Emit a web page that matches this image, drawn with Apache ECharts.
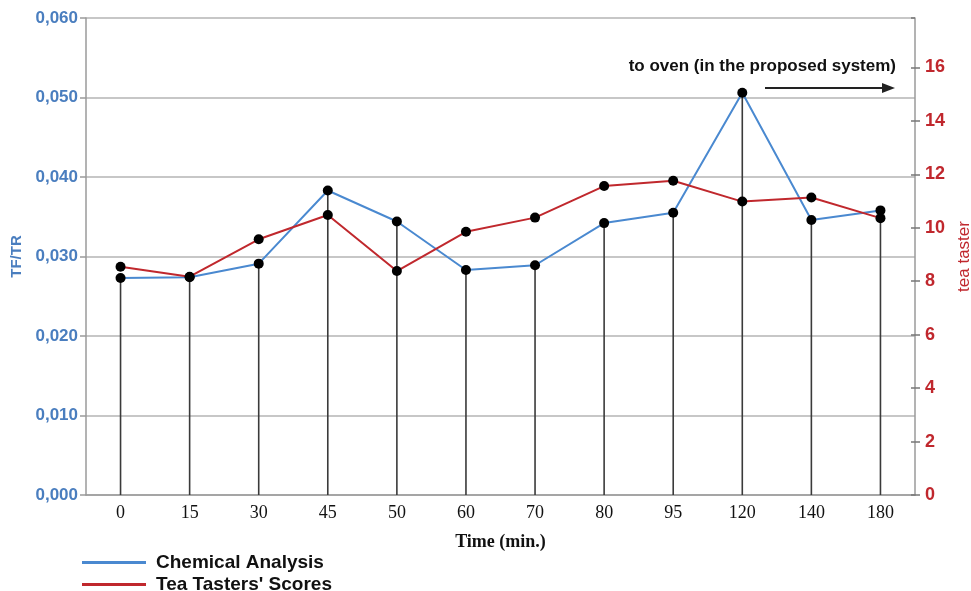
<!DOCTYPE html>
<html>
<head>
<meta charset="utf-8">
<script src="https://cdn.jsdelivr.net/npm/echarts@6/dist/echarts.min.js"></script>
<style>html,body{margin:0;padding:0;background:#fff}#c{width:971px;height:591px}</style>
</head>
<body>
<div id="c"></div>
<script>
const categories = ['0','15','30','45','50','60','70','80','95','120','140','180'];
const chemical = [0.0273,0.0274,0.0291,0.0383,0.0344,0.0283,0.0289,0.0342,0.0355,0.0506,0.0346,0.0358];
const tasters = [8.54,8.17,9.57,10.48,8.38,9.85,10.38,11.56,11.76,10.98,11.13,10.36];
const leftTicks = {min:0,max:0.06,interval:0.01};
const rightTicks = {min:0,max:17.85,interval:2};

const chart = echarts.init(document.getElementById('c'));
const blueTxt = '#4a7ebf', redTxt = '#c0272d', gridCol = '#b4b4b4', axisCol = '#9a9a9a';
const blueLine = '#4a89d0', redLine = '#c0282d';
const legendBase = {
  orient:'vertical', left:82, padding:0, itemWidth:64, itemHeight:3, icon:'rect',
  textStyle:{fontFamily:'Liberation Sans, Arial',fontWeight:'bold',fontSize:19,color:'#111',padding:[0,0,0,5]}
};
chart.setOption({
  animation:false,
  grid:{left:86,right:56,top:18,bottom:96,outerBoundsMode:'none',containLabel:false},
  legend:[
    Object.assign({}, legendBase, {top:553, data:[{name:'Chemical Analysis',itemStyle:{color:blueLine}}]}),
    Object.assign({}, legendBase, {top:575, data:[{name:"Tea Tasters' Scores",itemStyle:{color:redLine}}]})
  ],
  xAxis:[{
    type:'category', data:categories, boundaryGap:true,
    name:'Time (min.)', nameLocation:'middle', nameGap:38,
    nameTextStyle:{fontFamily:'Liberation Serif, Times New Roman',fontWeight:'bold',fontSize:18,color:'#111'},
    axisLine:{lineStyle:{color:axisCol,width:1.5}},
    axisTick:{alignWithLabel:true,length:7,lineStyle:{color:'#555',width:1.5}},
    axisLabel:{fontFamily:'Liberation Serif, Times New Roman',fontSize:18,color:'#111',margin:9}
  },{
    type:'category', data:categories, boundaryGap:true, position:'bottom',
    axisLine:{show:false}, axisLabel:{show:false},
    axisTick:{alignWithLabel:false,length:3,lineStyle:{color:'#999',width:1}}
  }],
  yAxis:[{
    type:'value', min:leftTicks.min, max:leftTicks.max, interval:leftTicks.interval,
    name:'TF/TR', nameLocation:'middle', nameGap:61,
    nameTextStyle:{fontFamily:'Liberation Sans, Arial',fontWeight:'bold',fontSize:15,color:blueTxt},
    axisLine:{show:true,lineStyle:{color:axisCol,width:1.5}},
    axisTick:{show:true,length:6,lineStyle:{color:axisCol,width:1.5}},
    splitLine:{lineStyle:{color:gridCol,width:1.5}},
    axisLabel:{fontFamily:'Liberation Sans, Arial',fontWeight:'bold',fontSize:17,color:blueTxt,margin:8,
      formatter:v=>v.toFixed(3).replace('.',',')}
  },{
    type:'value', position:'right', min:rightTicks.min, max:rightTicks.max, interval:rightTicks.interval,
    name:'tea taster', nameLocation:'middle', nameGap:39,
    nameTextStyle:{fontFamily:'Liberation Sans, Arial',fontSize:17,color:redTxt},
    axisLine:{show:true,lineStyle:{color:axisCol,width:1.5}},
    axisTick:{show:true,length:5,lineStyle:{color:'#777',width:1.5}},
    splitLine:{show:false},
    axisLabel:{fontFamily:'Liberation Sans, Arial',fontWeight:'bold',fontSize:18,color:redTxt,margin:10,showMaxLabel:false,
      formatter:v=>(v%2===0?String(v):'')}
  },{
    type:'value', position:'right', min:rightTicks.min, max:rightTicks.max, interval:rightTicks.interval,
    axisLine:{show:false}, axisLabel:{show:false}, splitLine:{show:false},
    axisTick:{show:true,inside:true,length:4,lineStyle:{color:'#777',width:1.5}}
  }],
  graphic:[
    {type:'text',right:75,top:58,style:{text:'to oven (in the proposed system)',fontFamily:'Liberation Sans, Arial',fontWeight:'bold',fontSize:17,fill:'#111'}},
    {type:'line',shape:{x1:765,y1:88,x2:884,y2:88},style:{stroke:'#222',lineWidth:1.8}},
    {type:'polygon',shape:{points:[[882,83],[895,88],[882,93]]},style:{fill:'#222'}}
  ],
  series:[
    {name:'stems',type:'bar',data:chemical,xAxisIndex:0,yAxisIndex:0,barWidth:1.6,
      itemStyle:{color:'#3a3a3a'},z:1,silent:true},
    {name:'Chemical Analysis',type:'line',data:chemical,yAxisIndex:0,
      symbol:'circle',symbolSize:10,lineStyle:{color:blueLine,width:2},
      itemStyle:{color:'#000'},z:3},
    {name:"Tea Tasters' Scores",type:'line',data:tasters,yAxisIndex:1,
      symbol:'circle',symbolSize:10,lineStyle:{color:redLine,width:2},
      itemStyle:{color:'#000'},z:3}
  ]
});
</script>
</body>
</html>
